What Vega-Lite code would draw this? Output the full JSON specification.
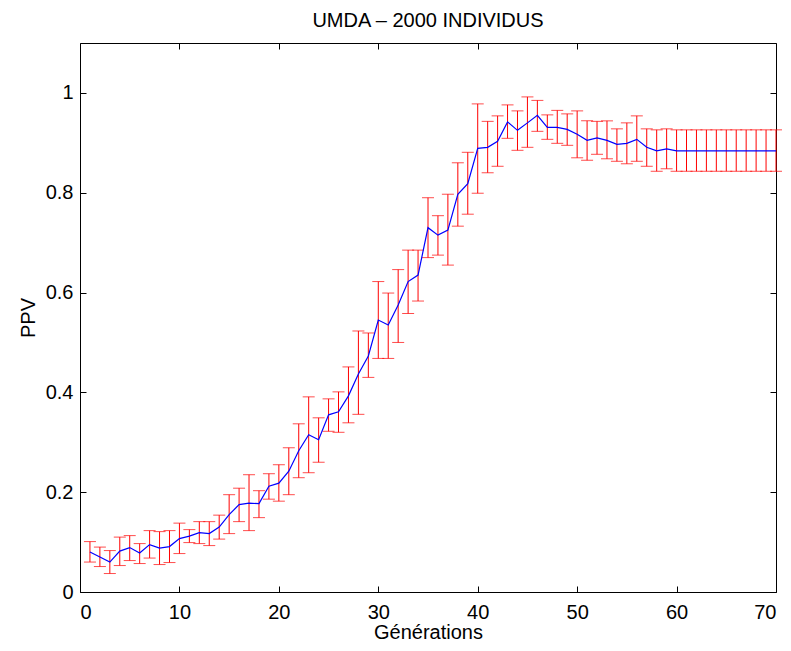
{
  "$schema": "https://vega.github.io/schema/vega-lite/v6.json",
  "width": 696,
  "height": 549,
  "autosize": "none",
  "padding": {"left": 80, "top": 43, "right": 15, "bottom": 59},
  "background": "white",
  "title": {"text": "UMDA – 2000 INDIVIDUS", "font": "Liberation Sans", "fontSize": 20, "fontWeight": "normal", "color": "black", "offset": 12},
  "config": {
    "view": {"stroke": "black", "strokeWidth": 1},
    "axis": {"labelFont": "Liberation Sans", "titleFont": "Liberation Sans", "labelFontSize": 20, "titleFontSize": 20, "titleFontWeight": "normal", "labelColor": "black", "titleColor": "black", "grid": false, "domain": false, "tickColor": "black", "tickSize": -6, "tickWidth": 1}
  },
  "data": {"values": [
    {"g": 1, "m": 0.080, "lo": 0.060, "hi": 0.101},
    {"g": 2, "m": 0.070, "lo": 0.051, "hi": 0.090},
    {"g": 3, "m": 0.060, "lo": 0.037, "hi": 0.083},
    {"g": 4, "m": 0.082, "lo": 0.053, "hi": 0.110},
    {"g": 5, "m": 0.089, "lo": 0.063, "hi": 0.113},
    {"g": 6, "m": 0.078, "lo": 0.057, "hi": 0.097},
    {"g": 7, "m": 0.095, "lo": 0.068, "hi": 0.123},
    {"g": 8, "m": 0.088, "lo": 0.055, "hi": 0.121},
    {"g": 9, "m": 0.091, "lo": 0.059, "hi": 0.123},
    {"g": 10, "m": 0.107, "lo": 0.077, "hi": 0.138},
    {"g": 11, "m": 0.112, "lo": 0.099, "hi": 0.125},
    {"g": 12, "m": 0.119, "lo": 0.097, "hi": 0.141},
    {"g": 13, "m": 0.117, "lo": 0.093, "hi": 0.141},
    {"g": 14, "m": 0.130, "lo": 0.106, "hi": 0.154},
    {"g": 15, "m": 0.155, "lo": 0.117, "hi": 0.195},
    {"g": 16, "m": 0.175, "lo": 0.141, "hi": 0.208},
    {"g": 17, "m": 0.178, "lo": 0.123, "hi": 0.235},
    {"g": 18, "m": 0.177, "lo": 0.149, "hi": 0.203},
    {"g": 19, "m": 0.212, "lo": 0.186, "hi": 0.237},
    {"g": 20, "m": 0.218, "lo": 0.182, "hi": 0.255},
    {"g": 21, "m": 0.242, "lo": 0.195, "hi": 0.289},
    {"g": 22, "m": 0.283, "lo": 0.229, "hi": 0.337},
    {"g": 23, "m": 0.315, "lo": 0.239, "hi": 0.391},
    {"g": 24, "m": 0.305, "lo": 0.260, "hi": 0.349},
    {"g": 25, "m": 0.355, "lo": 0.322, "hi": 0.387},
    {"g": 26, "m": 0.361, "lo": 0.320, "hi": 0.401},
    {"g": 27, "m": 0.393, "lo": 0.339, "hi": 0.451},
    {"g": 28, "m": 0.437, "lo": 0.356, "hi": 0.523},
    {"g": 29, "m": 0.473, "lo": 0.430, "hi": 0.519},
    {"g": 30, "m": 0.545, "lo": 0.468, "hi": 0.622},
    {"g": 31, "m": 0.535, "lo": 0.468, "hi": 0.599},
    {"g": 32, "m": 0.575, "lo": 0.500, "hi": 0.646},
    {"g": 33, "m": 0.622, "lo": 0.558, "hi": 0.685},
    {"g": 34, "m": 0.635, "lo": 0.583, "hi": 0.685},
    {"g": 35, "m": 0.730, "lo": 0.670, "hi": 0.790},
    {"g": 36, "m": 0.715, "lo": 0.675, "hi": 0.754},
    {"g": 37, "m": 0.725, "lo": 0.655, "hi": 0.797},
    {"g": 38, "m": 0.797, "lo": 0.733, "hi": 0.860},
    {"g": 39, "m": 0.818, "lo": 0.757, "hi": 0.881},
    {"g": 40, "m": 0.889, "lo": 0.799, "hi": 0.978},
    {"g": 41, "m": 0.891, "lo": 0.840, "hi": 0.943},
    {"g": 42, "m": 0.903, "lo": 0.853, "hi": 0.954},
    {"g": 43, "m": 0.942, "lo": 0.909, "hi": 0.976},
    {"g": 44, "m": 0.925, "lo": 0.885, "hi": 0.964},
    {"g": 45, "m": 0.940, "lo": 0.891, "hi": 0.992},
    {"g": 46, "m": 0.955, "lo": 0.923, "hi": 0.985},
    {"g": 47, "m": 0.931, "lo": 0.907, "hi": 0.956},
    {"g": 48, "m": 0.931, "lo": 0.899, "hi": 0.965},
    {"g": 49, "m": 0.927, "lo": 0.895, "hi": 0.958},
    {"g": 50, "m": 0.917, "lo": 0.870, "hi": 0.964},
    {"g": 51, "m": 0.905, "lo": 0.865, "hi": 0.944},
    {"g": 52, "m": 0.910, "lo": 0.877, "hi": 0.943},
    {"g": 53, "m": 0.905, "lo": 0.868, "hi": 0.944},
    {"g": 54, "m": 0.897, "lo": 0.863, "hi": 0.928},
    {"g": 55, "m": 0.899, "lo": 0.858, "hi": 0.940},
    {"g": 56, "m": 0.907, "lo": 0.863, "hi": 0.954},
    {"g": 57, "m": 0.891, "lo": 0.853, "hi": 0.928},
    {"g": 58, "m": 0.884, "lo": 0.843, "hi": 0.926},
    {"g": 59, "m": 0.888, "lo": 0.848, "hi": 0.928},
    {"g": 60, "m": 0.884, "lo": 0.843, "hi": 0.926},
    {"g": 61, "m": 0.884, "lo": 0.843, "hi": 0.926},
    {"g": 62, "m": 0.884, "lo": 0.843, "hi": 0.926},
    {"g": 63, "m": 0.884, "lo": 0.843, "hi": 0.926},
    {"g": 64, "m": 0.884, "lo": 0.843, "hi": 0.926},
    {"g": 65, "m": 0.884, "lo": 0.843, "hi": 0.926},
    {"g": 66, "m": 0.884, "lo": 0.843, "hi": 0.926},
    {"g": 67, "m": 0.884, "lo": 0.843, "hi": 0.926},
    {"g": 68, "m": 0.884, "lo": 0.843, "hi": 0.926},
    {"g": 69, "m": 0.884, "lo": 0.843, "hi": 0.926},
    {"g": 70, "m": 0.884, "lo": 0.843, "hi": 0.926}
  ]},
  "layer": [
    {
      "mark": {"type": "rule", "color": "#ff0000", "strokeWidth": 1},
      "encoding": {
        "x": {"field": "g", "type": "quantitative", "scale": {"domain": [0, 70], "nice": false}, "axis": {"orient": "bottom", "title": "Générations", "values": [0, 10, 20, 30, 40, 50, 60, 70], "labelPadding": 16, "titlePadding": 0}},
        "y": {"field": "lo", "type": "quantitative", "scale": {"domain": [0, 1.1], "nice": false}, "axis": {"orient": "left", "title": "PPV", "format": "~g", "values": [0, 0.2, 0.4, 0.6, 0.8, 1], "labelPadding": 13, "titlePadding": 7}},
        "y2": {"field": "hi"}
      }
    },
    {
      "mark": {"type": "tick", "orient": "horizontal", "color": "#ff0000", "size": 12, "thickness": 1},
      "encoding": {
        "x": {"field": "g", "type": "quantitative", "axis": null},
        "y": {"field": "lo", "type": "quantitative", "axis": null}
      }
    },
    {
      "mark": {"type": "tick", "orient": "horizontal", "color": "#ff0000", "size": 12, "thickness": 1},
      "encoding": {
        "x": {"field": "g", "type": "quantitative", "axis": null},
        "y": {"field": "hi", "type": "quantitative", "axis": null}
      }
    },
    {
      "mark": {"type": "line", "color": "#0000ff", "strokeWidth": 1.2},
      "encoding": {
        "x": {"field": "g", "type": "quantitative", "axis": {"orient": "top", "labels": false, "title": null, "values": [0, 10, 20, 30, 40, 50, 60, 70]}},
        "y": {"field": "m", "type": "quantitative", "axis": {"orient": "right", "labels": false, "title": null, "values": [0, 0.2, 0.4, 0.6, 0.8, 1]}}
      }
    }
  ],
  "resolve": {"axis": {"x": "independent", "y": "independent"}}
}
